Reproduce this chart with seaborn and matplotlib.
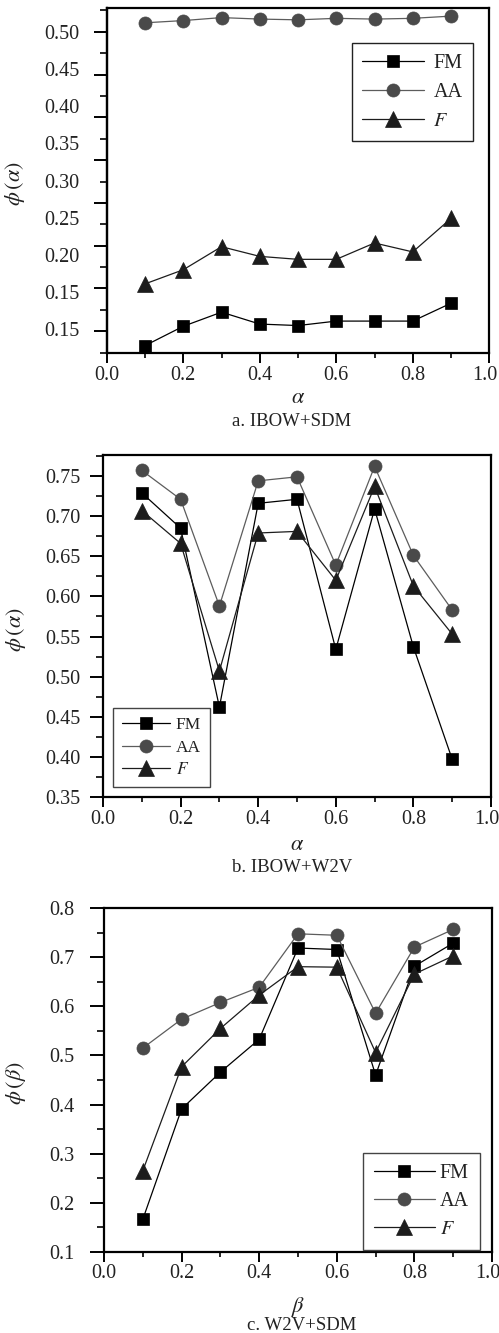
import matplotlib
matplotlib.use("Agg")
import matplotlib.pyplot as plt
import matplotlib.transforms as mtransforms
import seaborn as sns
from matplotlib.ticker import FixedLocator, MultipleLocator

sns.set_theme(style="ticks")
plt.rcParams["font.family"] = ["Liberation Serif", "DejaVu Serif"]
plt.rcParams["mathtext.fontset"] = "stix"

# ---------------- data ----------------
x_vals = [0.1, 0.2, 0.3, 0.4, 0.5, 0.6, 0.7, 0.8, 0.9]
series_labels = ["FM", "AA", r"$F$"]

a_fm = [0.078, 0.104, 0.123, 0.107, 0.105, 0.111, 0.111, 0.111, 0.135]
a_aa = [0.512, 0.515, 0.519, 0.517, 0.516, 0.518, 0.517, 0.518, 0.521]
a_f = [0.161, 0.180, 0.211, 0.198, 0.194, 0.194, 0.216, 0.204, 0.249]

b_fm = [0.729, 0.685, 0.462, 0.716, 0.721, 0.534, 0.709, 0.537, 0.397]
b_aa = [0.757, 0.721, 0.588, 0.744, 0.749, 0.639, 0.762, 0.651, 0.583]
b_f = [0.707, 0.666, 0.507, 0.679, 0.681, 0.620, 0.737, 0.613, 0.553]

c_fm = [0.166, 0.391, 0.466, 0.533, 0.719, 0.716, 0.460, 0.682, 0.729]
c_aa = [0.515, 0.574, 0.608, 0.639, 0.748, 0.745, 0.586, 0.721, 0.757]
c_f = [0.265, 0.477, 0.555, 0.623, 0.681, 0.680, 0.506, 0.666, 0.703]

a_ytick_values = [0.50, 0.45, 0.40, 0.35, 0.30, 0.25, 0.20, 0.15, 0.10]
a_ytick_labels = ["0.50", "0.45", "0.40", "0.35", "0.30", "0.25", "0.20", "0.15", "0.15"]
b_ytick_values = [0.35, 0.40, 0.45, 0.50, 0.55, 0.60, 0.65, 0.70, 0.75]
c_ytick_values = [0.1, 0.2, 0.3, 0.4, 0.5, 0.6, 0.7, 0.8]
xtick_values = [0.0, 0.2, 0.4, 0.6, 0.8, 1.0]

captions = ["a. IBOW+SDM", "b. IBOW+W2V", "c. W2V+SDM"]

# ---------------- style ----------------
styles = [
    dict(marker="s", color="#000000", line="#000000", ms=8.6),
    dict(marker="o", color="#4a4a4a", line="#5c5c5c", ms=9.4),
    dict(marker="^", color="#1c1c1c", line="#1c1c1c", ms=11.0),
]

fig = plt.figure(figsize=(4.99, 13.33), dpi=100)
W, H = 499.0, 1333.0


def make_axes(left, right, top, bottom):
    return fig.add_axes([left / W, 1 - bottom / H, (right - left) / W, (bottom - top) / H])


ax1 = make_axes(106.75, 489.25, 8.3, 353.0)
ax2 = make_axes(103.0, 491.0, 455.0, 797.0)
ax3 = make_axes(104.0, 492.0, 908.3, 1251.7)

panels = [
    (ax1, [a_fm, a_aa, a_f]),
    (ax2, [b_fm, b_aa, b_f]),
    (ax3, [c_fm, c_aa, c_f]),
]

TICK_FS = 14.5

for ax, series in panels:
    for vals, lab, st in zip(series, series_labels, styles):
        sns.lineplot(x=x_vals, y=vals, ax=ax, color=st["line"], linewidth=0.9,
                     marker=st["marker"], markersize=st["ms"],
                     markerfacecolor=st["color"], markeredgecolor=st["color"],
                     markeredgewidth=0.5, label=lab)
    ax.set_xlim(0.0, 1.0)
    ax.xaxis.set_major_locator(FixedLocator(xtick_values))
    ax.xaxis.set_minor_locator(MultipleLocator(0.1))
    ax.set_xticklabels([f"{v:.1f}" for v in xtick_values])
    for s in ax.spines.values():
        s.set_visible(True)
        s.set_linewidth(1.6)
        s.set_color("black")
    ax.tick_params(axis="x", which="major", length=7.2, width=1.4, direction="out",
                   pad=2, labelsize=TICK_FS, colors="black")
    ax.tick_params(axis="x", which="minor", length=3.6, width=1.4, direction="out")
    ax.tick_params(axis="y", which="major", length=9.4, width=1.4, direction="out",
                   labelsize=TICK_FS, colors="black")
    ax.tick_params(axis="y", which="minor", length=4.8, width=1.4, direction="out")
    ax.grid(False)
    for t in ax.get_xticklabels() + ax.get_yticklabels():
        t.set_color("#222222")

# ---- panel a: odd tick labels placed independently of tick marks ----
ax1.set_ylim(0.0681, 0.5315)
step_a = 0.05 * 42.8 / 37.2
ax1.yaxis.set_major_locator(FixedLocator([0.50 - step_a * k for k in range(8)]))
ax1.yaxis.set_minor_locator(FixedLocator([0.50 - step_a * (k + 0.5) for k in range(-1, 8)]))
ax1.tick_params(axis="y", which="both", labelleft=False)
sec = ax1.secondary_yaxis("left")
sec.set_yticks(a_ytick_values, labels=a_ytick_labels)
sec.tick_params(length=0, pad=19.5, labelsize=TICK_FS, colors="black", labelcolor="#222222")
sec.spines["left"].set_linewidth(1.6)
sec.spines["left"].set_color("black")

# ---- panel b ----
ax2.set_ylim(0.35, 0.7762)
ax2.yaxis.set_major_locator(FixedLocator(b_ytick_values))
ax2.yaxis.set_minor_locator(MultipleLocator(0.025))
ax2.set_yticklabels([f"{v:.2f}" for v in b_ytick_values])
ax2.tick_params(axis="y", which="major", pad=7.0)

# ---- panel c ----
ax3.set_ylim(0.1, 0.8)
ax3.yaxis.set_major_locator(FixedLocator(c_ytick_values))
ax3.yaxis.set_minor_locator(MultipleLocator(0.05))
ax3.set_yticklabels([f"{v:.1f}" for v in c_ytick_values])
ax3.tick_params(axis="y", which="major", length=10, pad=11.5)

for ax in [ax2, ax3]:
    for t in ax.get_yticklabels():
        t.set_color("#222222")

# keep the "1.0" label inside the image, as in the reference
for ax in [ax1, ax2, ax3]:
    last = ax.xaxis.get_major_ticks()[len(xtick_values) - 1].label1
    last.set_transform(last.get_transform()
                       + mtransforms.ScaledTranslation(-4.5 / 100, 0, fig.dpi_scale_trans))

# ---- axis labels ----
ylabels = [r"$\phi\,(\alpha)$", r"$\phi\,(\alpha)$", r"$\phi\,(\beta)$"]
xlabels = [r"$\alpha$", r"$\alpha$", r"$\beta$"]
ylab_x = [-0.2085, -0.193, -0.196]
xlab_y = [-0.1326, -0.143, -0.162]
for ax, yl, xl, yx, xy in zip([ax1, ax2, ax3], ylabels, xlabels, ylab_x, xlab_y):
    ax.set_ylabel(yl, fontsize=16, color="#222222")
    ax.yaxis.set_label_coords(yx, 0.49)
    ax.set_xlabel(xl, fontsize=16, color="#222222", va="center")
    ax.xaxis.set_label_coords(0.5, xy)

# ---- legends ----
leg_specs = [
    (ax1, (0.641, 0.898), 14.5, 0.5, 3.1, 0.45, 0.5, "#222222"),
    (ax2, (0.026, 0.26), 12.5, 0.38, 2.8, 0.3, 0.5, "#444444"),
    (ax3, (0.668, 0.288), 14.5, 0.45, 3.0, 0.25, 0.55, "#444444"),
]
for ax, anchor, fs, lsp, hl, htp, bp, ec in leg_specs:
    leg = ax.legend(loc="upper left", bbox_to_anchor=anchor, borderaxespad=0,
                    fontsize=fs, labelspacing=lsp, handlelength=hl, handletextpad=htp,
                    frameon=True, fancybox=False, shadow=False, borderpad=bp)
    leg.get_frame().set_edgecolor(ec)
    leg.get_frame().set_linewidth(1.0)
    leg.get_frame().set_alpha(1)
    for t in leg.get_texts():
        t.set_color("#222222")

# ---- captions ----
fig.text(292 / W, 1 - 422 / H, captions[0], ha="center", va="center", fontsize=13.5, color="#222222")
fig.text(292 / W, 1 - 867 / H, captions[1], ha="center", va="center", fontsize=13.5, color="#222222")
fig.text(302 / W, 1 - 1326 / H, captions[2], ha="center", va="center", fontsize=13.5, color="#222222")

fig.savefig("out.png", dpi=100)
